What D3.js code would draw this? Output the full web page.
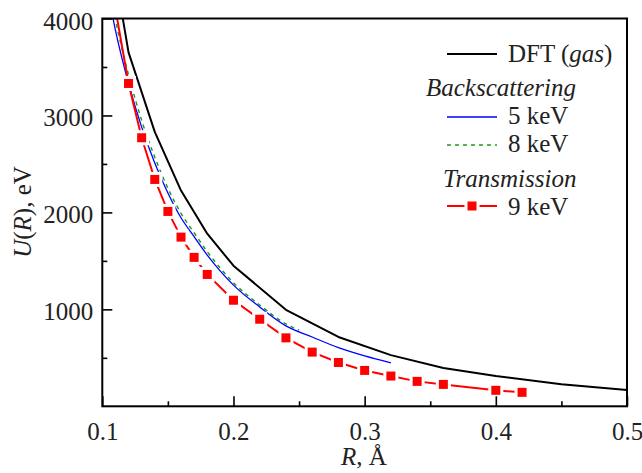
<!DOCTYPE html>
<html>
<head>
<meta charset="utf-8">
<script src="https://cdn.jsdelivr.net/npm/d3@7"></script>
<style>
  html, body { margin: 0; padding: 0; background: #fff; }
</style>
</head>
<body>
<svg id="chart" width="642" height="473"></svg>
<script>
// Interatomic potential U(R) curves
const dftR = [0.11, 0.12, 0.14, 0.16, 0.18, 0.20, 0.24, 0.28, 0.32, 0.36, 0.40, 0.45, 0.50];
const dftU = [4450, 3650, 2830, 2225, 1780, 1450, 995, 715, 528, 395, 312, 228, 168];

const back5R = [0.105, 0.11, 0.12, 0.13, 0.14, 0.15, 0.16, 0.17, 0.18, 0.19, 0.20, 0.22, 0.24, 0.26, 0.28, 0.30, 0.32];
const back5U = [4220, 3880, 3330, 2880, 2510, 2200, 1945, 1750, 1560, 1395, 1250, 1025, 830, 715, 605, 520, 449];

const back8R = [0.105, 0.11, 0.12, 0.13, 0.14, 0.15, 0.16, 0.17, 0.18, 0.19, 0.20, 0.22, 0.24, 0.25];
const back8U = [4350, 3990, 3420, 2950, 2570, 2250, 1990, 1790, 1595, 1425, 1275, 1045, 850, 785];

const trans9R = [0.11, 0.12, 0.13, 0.14, 0.15, 0.16, 0.17, 0.18, 0.20, 0.22, 0.24, 0.26, 0.28, 0.30, 0.32, 0.34, 0.36, 0.40, 0.42];
const trans9U = [4100, 3330, 2770, 2340, 2010, 1745, 1536, 1360, 1094, 898, 706, 559, 452, 370, 312, 257, 226, 165, 144];

const xTicks = [0.1, 0.2, 0.3, 0.4, 0.5];
const xMinorTicks = [0.15, 0.25, 0.35, 0.45];
const yTicks = [1000, 2000, 3000, 4000];
const yMinorTicks = [500, 1500, 2500, 3500];

const FONT = '"Liberation Serif", "Times New Roman", Tinos, "DejaVu Serif", serif';
const svg = d3.select("#chart").attr("font-family", FONT);
const pLeft = 102.3, pRight = 627, pTop = 18.5, pBottom = 406.3;

const x = d3.scaleLinear().domain([0.1, 0.5]).range([pLeft, pRight]);
const y = d3.scaleLinear().domain([0, 4000]).range([pBottom, pTop]);

svg.append("defs").append("clipPath").attr("id", "plotClip")
  .append("rect").attr("x", pLeft).attr("y", pTop)
  .attr("width", pRight - pLeft).attr("height", pBottom - pTop);

const plot = svg.append("g").attr("clip-path", "url(#plotClip)");
const line = d3.line().x(d => x(d[0])).y(d => y(d[1]));
const zip = (a, b) => a.map((v, i) => [v, b[i]]);

// DFT (gas)
plot.append("path").datum(zip(dftR, dftU)).attr("d", line)
  .attr("fill", "none").attr("stroke", "#000").attr("stroke-width", 2)
  .attr("stroke-linejoin", "round");

// Backscattering 8 keV
plot.append("path").datum(zip(back8R, back8U))
  .attr("d", line.curve(d3.curveMonotoneX))
  .attr("fill", "none").attr("stroke", "#1a9a1a").attr("stroke-width", 1.4)
  .attr("stroke-dasharray", "4,4");

// Backscattering 5 keV
plot.append("path").datum(zip(back5R, back5U))
  .attr("d", line.curve(d3.curveMonotoneX))
  .attr("fill", "none").attr("stroke", "#0000ff").attr("stroke-width", 1.3);

// Transmission 9 keV
const tData = zip(trans9R, trans9U);
plot.append("path").datum(tData).attr("d", line.curve(d3.curveLinear))
  .attr("fill", "none").attr("stroke", "#ff0000").attr("stroke-width", 2);
const ms = 9, gap = 3;
plot.selectAll(".gapmark").data(tData).join("rect")
  .attr("x", d => x(d[0]) - ms / 2 - gap).attr("y", d => y(d[1]) - ms / 2 - gap)
  .attr("width", ms + 2 * gap).attr("height", ms + 2 * gap).attr("fill", "#fff");
plot.selectAll(".mark").data(tData).join("rect")
  .attr("x", d => x(d[0]) - ms / 2).attr("y", d => y(d[1]) - ms / 2)
  .attr("width", ms).attr("height", ms).attr("fill", "#ff0000");

// Frame
svg.append("rect").attr("x", pLeft).attr("y", pTop)
  .attr("width", pRight - pLeft).attr("height", pBottom - pTop)
  .attr("fill", "none").attr("stroke", "#000").attr("stroke-width", 2);

// Axes with inward ticks
const xAxis = svg.append("g").attr("transform", `translate(0,${pBottom})`)
  .call(d3.axisBottom(x).tickValues(xTicks).tickSize(-10).tickFormat(d3.format(".1f")).tickPadding(16));
xAxis.append("g").call(d3.axisBottom(x).tickValues(xMinorTicks).tickSize(-5).tickFormat(""));
const yAxis = svg.append("g").attr("transform", `translate(${pLeft},0)`)
  .call(d3.axisLeft(y).tickValues(yTicks).tickSize(-10).tickFormat(d3.format("d")).tickPadding(9));
yAxis.append("g").call(d3.axisLeft(y).tickValues(yMinorTicks).tickSize(-5).tickFormat(""));

svg.selectAll("g").attr("font-family", null);
svg.selectAll(".domain").remove();
svg.selectAll(".tick line").attr("stroke", "#000").attr("stroke-width", 1.6);
svg.selectAll(".tick text").attr("font-size", 25).attr("font-family", FONT).attr("fill", "#222");
yAxis.selectAll(".tick text").attr("dy", "0.42em");
xAxis.selectAll(".tick text").attr("dy", "0.71em");

// Axis titles
const xt = svg.append("text").attr("x", 364).attr("y", 465).attr("fill", "#222")
  .attr("text-anchor", "middle").attr("font-size", 25);
xt.append("tspan").attr("font-style", "italic").text("R");
xt.append("tspan").text(", Å");

const yt = svg.append("text").attr("transform", "translate(31,212) rotate(-90)").attr("fill", "#222")
  .attr("text-anchor", "middle").attr("font-size", 25);
yt.append("tspan").attr("font-style", "italic").text("U");
yt.append("tspan").text("(");
yt.append("tspan").attr("font-style", "italic").text("R");
yt.append("tspan").text("), eV");

// Legend
const lg = svg.append("g").attr("fill", "#222");
const lx0 = 447, lx1 = 497, tx = 508;

lg.append("line").attr("x1", lx0).attr("x2", lx1).attr("y1", 54).attr("y2", 54)
  .attr("stroke", "#000").attr("stroke-width", 2);
const t1 = lg.append("text").attr("x", tx).attr("y", 62).attr("font-size", 25);
t1.append("tspan").text("DFT (");
t1.append("tspan").attr("font-style", "italic").text("gas");
t1.append("tspan").text(")");

lg.append("text").attr("x", 426).attr("y", 96).attr("font-size", 25)
  .attr("font-style", "italic").text("Backscattering");

lg.append("line").attr("x1", lx0).attr("x2", lx1).attr("y1", 117).attr("y2", 117)
  .attr("stroke", "#0000ff").attr("stroke-width", 1.3);
lg.append("text").attr("x", tx).attr("y", 124).attr("font-size", 25).text("5 keV");

lg.append("line").attr("x1", lx0).attr("x2", lx1).attr("y1", 145).attr("y2", 145)
  .attr("stroke", "#1a9a1a").attr("stroke-width", 1.4).attr("stroke-dasharray", "4,4");
lg.append("text").attr("x", tx).attr("y", 152).attr("font-size", 25).text("8 keV");

lg.append("text").attr("x", 443).attr("y", 187).attr("font-size", 25)
  .attr("font-style", "italic").text("Transmission");

lg.append("line").attr("x1", lx0).attr("x2", lx1).attr("y1", 206).attr("y2", 206)
  .attr("stroke", "#ff0000").attr("stroke-width", 2);
lg.append("rect").attr("x", 472 - ms / 2 - gap).attr("y", 206 - ms / 2 - gap)
  .attr("width", ms + 2 * gap).attr("height", ms + 2 * gap).attr("fill", "#fff");
lg.append("rect").attr("x", 472 - ms / 2).attr("y", 206 - ms / 2)
  .attr("width", ms).attr("height", ms).attr("fill", "#ff0000");
lg.append("text").attr("x", tx).attr("y", 215).attr("font-size", 25).text("9 keV");
</script>
</body>
</html>
